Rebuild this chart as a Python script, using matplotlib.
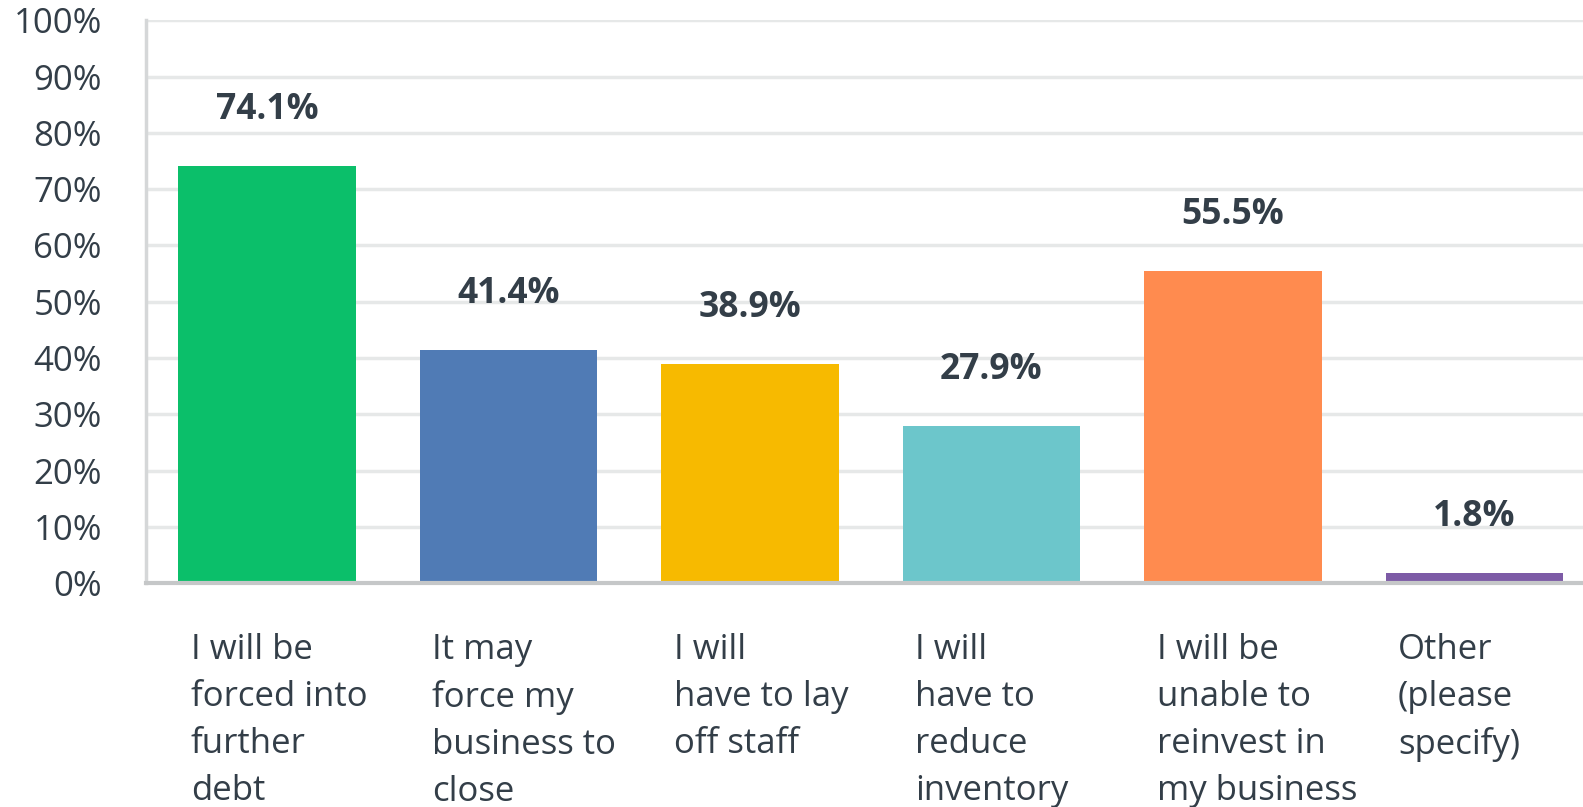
import matplotlib
matplotlib.use("Agg")
import matplotlib.pyplot as plt
import numpy as np

categories = [
    "I will be\nforced into\nfurther\ndebt",
    "It may\nforce my\nbusiness to\nclose",
    "I will\nhave to lay\noff staff",
    "I will\nhave to\nreduce\ninventory",
    "I will be\nunable to\nreinvest in\nmy business",
    "Other\n(please\nspecify)",
]
values = [74.1, 41.4, 38.9, 27.9, 55.5, 1.8]
colors = ["#0BBF6A", "#507BB5", "#F7BA00", "#6CC6CB", "#FF8B4F", "#7D5BA6"]
yticks = list(range(0, 101, 10))

text_color = "#333E48"
plt.rcParams["font.family"] = ["Open Sans", "DejaVu Sans"]

fig = plt.figure(figsize=(15.83, 8.07), dpi=100)
ax = fig.add_axes([0.0925, 0.277, 0.9075, 0.698])

x = np.arange(len(values))
bar_w = 0.735
ax.bar(x, values, width=bar_w, color=colors, zorder=3)

for xi, v in zip(x, values):
    ax.text(xi, v + 10.0, f"{v}%", ha="center", va="center",
            fontsize=25.5, fontweight="bold", color=text_color)

for xi, lab in zip(x, categories):
    ax.annotate(lab, xy=(xi - bar_w / 2, 0), xycoords=("data", "axes fraction"),
                xytext=(9, -35.5), textcoords="offset points",
                ha="left", va="top", fontsize=25, color=text_color,
                linespacing=1.5, annotation_clip=False)

ax.set_xlim(-0.5, 5.45)
ax.set_ylim(0, 100)
ax.set_yticks(yticks)
ax.set_yticklabels([f"{t}%" for t in yticks], fontsize=25, color=text_color)
ax.set_xticks([])
ax.tick_params(axis="y", length=0, pad=32)
ax.yaxis.grid(True, color="#E6E8E8", linewidth=2.5, zorder=0)
ax.set_axisbelow(True)
for s in ["top", "right"]:
    ax.spines[s].set_visible(False)
ax.spines["left"].set_color("#D5D7D8")
ax.spines["left"].set_linewidth(2.5)
ax.spines["bottom"].set_color("#C5C7C8")
ax.spines["bottom"].set_linewidth(3)
ax.spines["bottom"].set_zorder(4)

fig.savefig("out.png", dpi=100)
